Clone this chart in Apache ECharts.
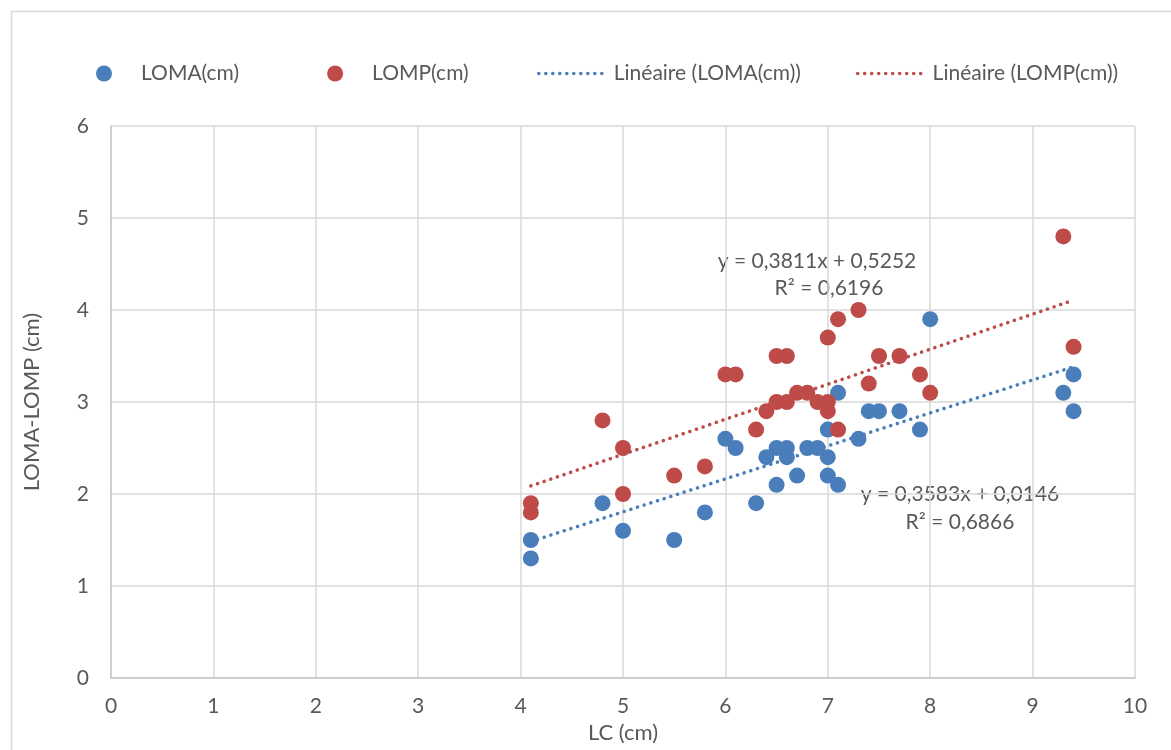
<!DOCTYPE html>
<html>
<head>
<meta charset="utf-8">
<script src="https://cdn.jsdelivr.net/npm/echarts@6/dist/echarts.min.js"></script>
<style>
  html, body { margin: 0; padding: 0; background: #fff; }
  #chart { width: 1171px; height: 750px; }
</style>
</head>
<body>
<div id="chart"></div>
<script>
const chart = echarts.init(document.querySelector('#chart'));

const lcLoma = [4.1, 4.1, 4.8, 5.0, 5.5, 5.8, 6.0, 6.1, 6.3, 6.4, 6.5, 6.5, 6.6, 6.6, 6.7, 6.8, 6.9, 7.0, 7.0, 7.0, 7.1, 7.1, 7.3, 7.4, 7.5, 7.7, 7.9, 8.0, 9.3, 9.4, 9.4]
const loma   = [1.5, 1.3, 1.9, 1.6, 1.5, 1.8, 2.6, 2.5, 1.9, 2.4, 2.5, 2.1, 2.5, 2.4, 2.2, 2.5, 2.5, 2.7, 2.4, 2.2, 3.1, 2.1, 2.6, 2.9, 2.9, 2.9, 2.7, 3.9, 3.1, 3.3, 2.9]

const lcLomp = [4.1, 4.1, 4.8, 5.0, 5.0, 5.5, 5.8, 6.0, 6.1, 6.3, 6.4, 6.5, 6.5, 6.6, 6.6, 6.7, 6.8, 6.9, 7.0, 7.0, 7.0, 7.1, 7.1, 7.3, 7.4, 7.5, 7.7, 7.9, 8.0, 9.3, 9.4]
const lomp   = [1.9, 1.8, 2.8, 2.5, 2.0, 2.2, 2.3, 3.3, 3.3, 2.7, 2.9, 3.5, 3.0, 3.5, 3.0, 3.1, 3.1, 3.0, 3.0, 2.9, 3.7, 3.9, 2.7, 4.0, 3.2, 3.5, 3.5, 3.3, 3.1, 4.8, 3.6]

// trend lines as printed on the chart: [slope, intercept]
const trendLoma = [0.3583, 0.0146]
const trendLomp = [0.3811, 0.5252]
const xTicks = [0, 1, 2, 3, 4, 5, 6, 7, 8, 9, 10]
const yTicks = [0, 1, 2, 3, 4, 5, 6]

const blue = '#4a7ebb'
const red = '#be4b48'
const txt = '#595959'
const font = 'Lato'

const pairs = (xs, ys) => xs.map((x, i) => [x, ys[i]])
const trend = (xs, c) => {
  const lo = Math.min(...xs), hi = Math.max(...xs)
  return [[lo, c[0] * lo + c[1]], [hi, c[0] * hi + c[1]]]
}
const dotted = (color) => ({ color, width: 3.5, type: [0.1, 6.9], cap: 'round' })
const label = (text, x, y) => ({
  type: 'text', x, y,
  style: { text, font: '21px ' + font, fill: txt, align: 'center', verticalAlign: 'middle' }
})

chart.setOption({
  animation: false,
  textStyle: { fontFamily: font },
  grid: { left: 111, right: 36, top: 126, bottom: 72 },
  xAxis: {
    type: 'value', min: xTicks[0], max: xTicks[xTicks.length - 1], interval: 1,
    name: 'LC (cm)', nameLocation: 'middle', nameGap: 43,
    nameTextStyle: { color: txt, fontSize: 22, fontFamily: font },
    axisLine: { show: true, lineStyle: { color: '#c8c8c8', width: 1.5 } },
    axisTick: { show: false },
    axisLabel: { color: txt, fontSize: 21, margin: 18 },
    splitLine: { show: true, lineStyle: { color: '#d9d9d9', width: 1.5 } }
  },
  yAxis: {
    type: 'value', min: yTicks[0], max: yTicks[yTicks.length - 1], interval: 1,
    name: 'LOMA-LOMP (cm)', nameLocation: 'middle', nameGap: 68, nameRotate: 90,
    nameTextStyle: { color: txt, fontSize: 22, fontFamily: font },
    axisLine: { show: true, lineStyle: { color: '#c8c8c8', width: 1.5 } },
    axisTick: { show: false },
    axisLabel: { color: txt, fontSize: 21, margin: 22 },
    splitLine: { show: true, lineStyle: { color: '#d9d9d9', width: 1.5 } }
  },
  legend: [
    {
      data: ['LOMA(cm)', 'LOMP(cm)'],
      left: 91, top: 58, itemWidth: 16, itemHeight: 16, itemGap: 88,
      icon: 'circle',
      textStyle: { color: txt, fontSize: 21, padding: [0, 0, 0, 24] }
    },
    {
      data: ['Linéaire (LOMA(cm))', 'Linéaire (LOMP(cm))'],
      left: 532, top: 58, itemWidth: 66, itemHeight: 16, itemGap: 55,
      itemStyle: { opacity: 0 },
      lineStyle: { width: 3.5, type: [0.1, 6.9], cap: 'round' },
      textStyle: { color: txt, fontSize: 21, padding: [0, 0, 0, 4] }
    }
  ],
  graphic: [
    { type: 'rect', left: 9, top: 9, shape: { width: 1200, height: 800 }, style: { fill: 'none', stroke: '#d9d9d9', lineWidth: 1.5 }, silent: true },
    label('y = 0,3811x + 0,5252', 817, 261),
    label('R² = 0,6196', 829, 288),
    label('y = 0,3583x + 0,0146', 960, 494),
    label('R² = 0,6866', 960, 522)
  ],
  series: [
    {
      name: 'Linéaire (LOMA(cm))', type: 'line', data: trend(lcLoma, trendLoma),
      showSymbol: false, symbol: 'none', lineStyle: dotted(blue), itemStyle: { color: blue }, z: 3
    },
    {
      name: 'Linéaire (LOMP(cm))', type: 'line', data: trend(lcLomp, trendLomp),
      showSymbol: false, symbol: 'none', lineStyle: dotted(red), itemStyle: { color: red }, z: 3
    },
    {
      name: 'LOMA(cm)', type: 'scatter', data: pairs(lcLoma, loma),
      symbolSize: 16, itemStyle: { color: blue, opacity: 1 }, z: 2
    },
    {
      name: 'LOMP(cm)', type: 'scatter', data: pairs(lcLomp, lomp),
      symbolSize: 16, itemStyle: { color: red, opacity: 1 }, z: 2
    }
  ]
});
</script>
</body>
</html>
